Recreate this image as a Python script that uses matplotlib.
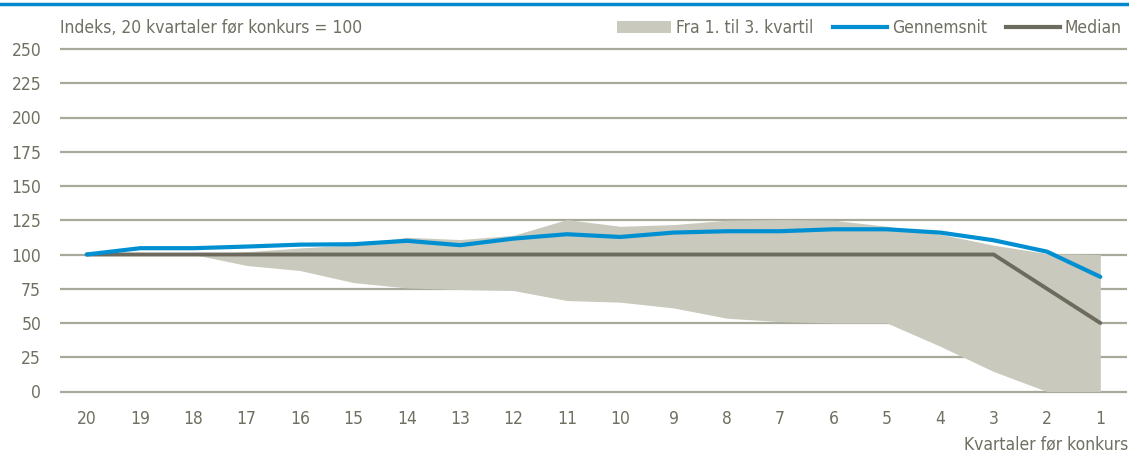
import numpy as np
import matplotlib
matplotlib.use('Agg')
import matplotlib.pyplot as plt
from matplotlib.patches import Patch
from matplotlib.lines import Line2D

plt.rcParams['font.family'] = ['DejaVu Sans']
plt.rcParams['font.stretch'] = 'condensed'

# kvartaler før konkurs
kvartaler = ['20', '19', '18', '17', '16', '15', '14', '13', '12', '11',
             '10', '9', '8', '7', '6', '5', '4', '3', '2', '1']
# 1. og 3. kvartil
kvartil1 = [100, 100, 100, 92, 88.3, 79.5, 75.6, 74.4, 73.7, 66.4,
            65.2, 61, 53.5, 51, 50, 50, 33, 14.6, 0, 0]
kvartil3 = [100, 100, 100, 102, 104.8, 107, 112.6, 110.9, 114, 125.5,
            120.6, 121.8, 125, 125.5, 125, 120.6, 114.8, 106.8, 100.7, 100]
gennemsnit = [100, 104.6, 104.6, 105.8, 107.2, 107.5, 110, 106.8, 111.6, 114.8,
              112.8, 116, 117, 117, 118.4, 118.4, 116, 110.4, 102.1, 83.7]
median = [100, 100, 100, 100, 100, 100, 100, 100, 100, 100,
          100, 100, 100, 100, 100, 100, 100, 100, 75, 50]

W, H = 1129, 455
fig = plt.figure(figsize=(W / 100, H / 100), dpi=100)
# akser placeret i pixels: y 0 -> 391, 250 -> 49
ylo, yhi = -2, 252
ppu = (391.5 - 49) / 250
top_px = 49 - (yhi - 250) * ppu
bot_px = 391.5 + (0 - ylo) * ppu
ax = fig.add_axes([60 / W, 1 - bot_px / H, (1127 - 60) / W, (bot_px - top_px) / H])

grid_col = '#A9A99A'
txt_col = '#6F6F62'
band_col = '#C9C9BD'
blue = '#0090D2'
dark = '#6C6B5D'
fs = 12.5

x = np.arange(len(kvartaler))
for v in range(0, 251, 25):
    ax.axhline(v, color=grid_col, lw=1.6, zorder=0)
ax.fill_between(x, kvartil1, kvartil3, color=band_col, lw=0, zorder=1)
ax.plot(x, median, color=dark, lw=2.8, zorder=2, solid_capstyle='round')
ax.plot(x, gennemsnit, color=blue, lw=3, zorder=3, solid_capstyle='round')

ax.set_xlim(-0.5, len(kvartaler) - 0.5)
ax.set_ylim(ylo, yhi)
ax.set_xticks(x)
ax.set_xticklabels(kvartaler)
ax.set_yticks(range(0, 251, 25))
ax.tick_params(length=0, labelsize=fs, colors=txt_col, pad=11)
ax.tick_params(axis='y', pad=13.5)
for s in ax.spines.values():
    s.set_visible(False)

# blå linje øverst
fig.add_artist(Line2D([0, 1], [1 - 4 / H, 1 - 4 / H], color='#0088CC', lw=2.5))

fig.text(60 / W, 1 - 28 / H, 'Indeks, 20 kvartaler før konkurs = 100',
         color=txt_col, fontsize=fs, va='center', ha='left')
fig.text(1128 / W, 1 - 444 / H, 'Kvartaler før konkurs',
         color=txt_col, fontsize=fs, va='center', ha='right')

handles = [Patch(facecolor=band_col, edgecolor='none'),
           Line2D([], [], color=blue, lw=3),
           Line2D([], [], color=dark, lw=3)]
labels = ['Fra 1. til 3. kvartil', 'Gennemsnit', 'Median']
leg = fig.legend(handles, labels, ncol=3, loc='center right',
                 bbox_to_anchor=(1122 / W, 1 - 28 / H), frameon=False,
                 fontsize=fs, handlelength=3.1, handletextpad=0.3,
                 columnspacing=1.1, borderaxespad=0, borderpad=0)
for t in leg.get_texts():
    t.set_color(txt_col)

fig.savefig('out.png', dpi=100)
